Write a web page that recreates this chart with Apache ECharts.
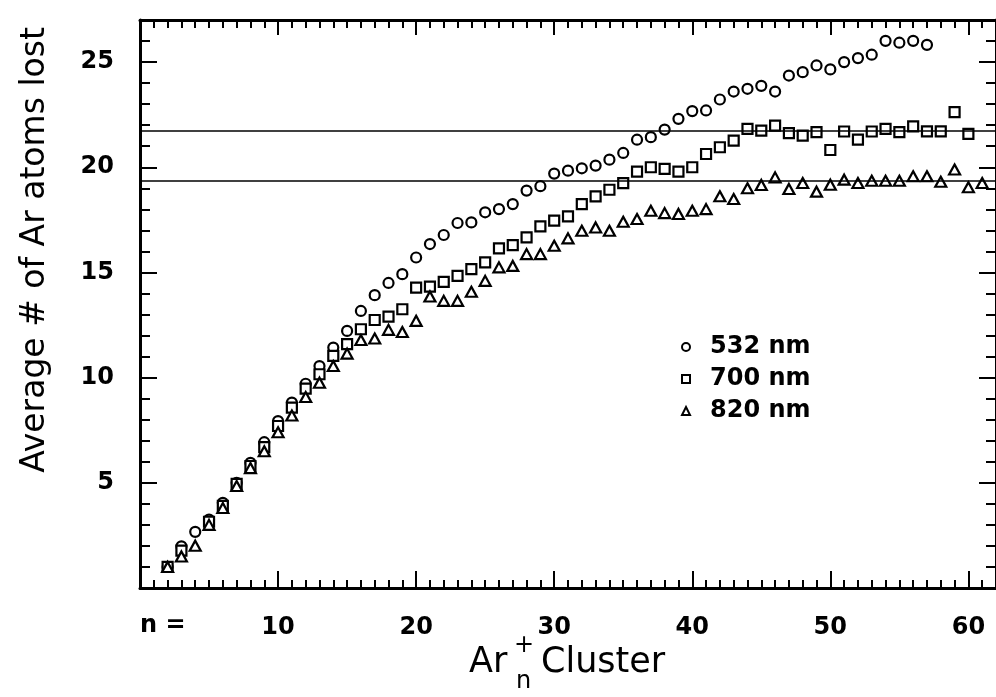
<!DOCTYPE html>
<html>
<head>
<meta charset="utf-8">
<script src="https://cdn.jsdelivr.net/npm/echarts@6/dist/echarts.min.js"></script>
<style>
  html, body { margin: 0; padding: 0; background: #fff; }
  #chart { width: 996px; height: 697px; }
</style>
</head>
<body>
<div id="chart"></div>
<script>
// cluster size n (Ar_n+)
var clusterSize = [2, 3, 4, 5, 6, 7, 8, 9, 10, 11, 12, 13, 14, 15, 16, 17, 18, 19, 20, 21,
  22, 23, 24, 25, 26, 27, 28, 29, 30, 31, 32, 33, 34, 35, 36, 37, 38, 39, 40, 41,
  42, 43, 44, 45, 46, 47, 48, 49, 50, 51, 52, 53, 54, 55, 56, 57, 58, 59, 60, 61];

// average number of Ar atoms lost
var lost532 = [1.0, 1.98, 2.67, 3.25, 4.05, 5.0, 5.95, 6.93, 7.93, 8.81, 9.71, 10.55, 11.43, 12.22, 13.17, 13.92, 14.5, 14.92, 15.71, 16.35,
  16.78, 17.35, 17.38, 17.86, 18.01, 18.25, 18.89, 19.1, 19.7, 19.84, 19.95, 20.08, 20.36, 20.68, 21.31, 21.43, 21.79, 22.3, 22.67, 22.7,
  23.22, 23.6, 23.73, 23.87, 23.6, 24.36, 24.52, 24.84, 24.65, 25.0, 25.19, 25.35, 26.01, 25.92, 26.01, 25.82, null, null, null, null];
var lost700 = [1.0, 1.78, null, 3.15, 3.9, 4.95, 5.8, 6.7, 7.7, 8.57, 9.48, 10.16, 11.03, 11.59, 12.3, 12.74, 12.9, 13.25, 14.28, 14.33,
  14.55, 14.84, 15.16, 15.48, 16.14, 16.3, 16.67, 17.19, 17.46, 17.67, 18.25, 18.62, 18.93, 19.25, 19.79, 20.0, 19.92, 19.79, 20.0, 20.63,
  20.95, 21.27, 21.82, 21.74, 21.98, 21.62, 21.5, 21.67, 20.82, 21.7, 21.31, 21.7, 21.82, 21.67, 21.94, 21.71, 21.71, 22.62, 21.59, null];
var lost820 = [1.0, 1.5, 2.01, 3.0, 3.8, 4.85, 5.7, 6.5, 7.4, 8.2, 9.08, 9.76, 10.55, 11.14, 11.79, 11.86, 12.27, 12.17, 12.7, 13.86,
  13.65, 13.65, 14.08, 14.6, 15.24, 15.31, 15.87, 15.87, 16.27, 16.62, 16.98, 17.14, 16.98, 17.41, 17.54, 17.93, 17.82, 17.78, 17.93, 18.01,
  18.62, 18.49, 19.0, 19.16, 19.52, 18.97, 19.25, 18.84, 19.17, 19.41, 19.25, 19.36, 19.36, 19.36, 19.57, 19.57, 19.31, 19.89, 19.05, 19.25];

// plateau levels (horizontal lines)
var plateauLevels = [21.73, 19.35];

var seriesNames = ['532 nm', '700 nm', '820 nm'];
var seriesSymbols = ['circle', 'rect', 'triangle'];
var symbolSizes = [10, 10, [11, 10]];
var seriesValues = [lost532, lost700, lost820];

var FONT = '"DejaVu Sans", sans-serif';

function toPairs(values) {
  var out = [];
  for (var i = 0; i < clusterSize.length; i++) {
    if (values[i] != null) out.push([clusterSize[i], values[i]]);
  }
  return out;
}

function tickLabel(v) {
  return (v === 0 || v % 5 !== 0) ? '' : v;
}

var chart = echarts.init(document.getElementById('chart'));

var series = [];
for (var k = 0; k < seriesNames.length; k++) {
  series.push({
    name: seriesNames[k],
    type: 'scatter',
    symbol: seriesSymbols[k],
    symbolSize: symbolSizes[k],
    itemStyle: { color: '#fff', borderColor: '#000', borderWidth: 2.2, opacity: 1 },
    data: toPairs(seriesValues[k]),
    z: 3
  });
}
series[0].markLine = {
  silent: true,
  symbol: 'none',
  label: { show: false },
  lineStyle: { color: '#000', width: 1.5, type: 'solid' },
  data: plateauLevels.map(function (v) { return { yAxis: v }; })
};

var axisLine = { show: true, onZero: false, lineStyle: { color: '#000', width: 3 } };
var majorTick = { inside: true, length: 17, lineStyle: { color: '#000', width: 2 } };

var option = {
  animation: false,
  backgroundColor: '#fff',
  grid: { left: 140, top: 20, width: 862, height: 568 },
  legend: {
    orient: 'vertical',
    left: 676,
    top: 330,
    itemGap: 8,
    itemWidth: 8,
    itemHeight: 8,
    data: seriesNames,
    itemStyle: { borderWidth: 2 },
    textStyle: { fontFamily: FONT, fontSize: 24, fontWeight: 'bold', color: '#000', padding: [0, 0, 0, 15] }
  },
  xAxis: [{
    type: 'value',
    min: 0, max: 62, interval: 10,
    axisLine: axisLine,
    axisTick: majorTick,
    minorTick: { show: true, splitNumber: 10, length: 8, lineStyle: { color: '#000', width: 2 } },
    splitLine: { show: false },
    axisLabel: {
      margin: 28, fontFamily: FONT, fontSize: 24, fontWeight: 'bold', color: '#000',
      formatter: function (v) { return v === 0 ? '' : v; }
    }
  }, {
    type: 'value', position: 'top',
    min: 0, max: 62, interval: 10,
    axisLine: axisLine,
    axisTick: { inside: true, length: 15, lineStyle: { color: '#000', width: 2 } },
    minorTick: { show: true, splitNumber: 10, length: 8, lineStyle: { color: '#000', width: 2 } },
    splitLine: { show: false },
    axisLabel: { show: false }
  }],
  yAxis: [{
    type: 'value',
    min: 0, max: 27, interval: 5,
    axisLine: axisLine,
    axisTick: majorTick,
    minorTick: { show: true, splitNumber: 5, length: 10, lineStyle: { color: '#000', width: 2 } },
    splitLine: { show: false },
    axisLabel: {
      margin: 26, fontFamily: FONT, fontSize: 24, fontWeight: 'bold', color: '#000',
      formatter: tickLabel
    }
  }, {
    type: 'value', position: 'right',
    min: 0, max: 27, interval: 5,
    axisLine: axisLine,
    axisTick: majorTick,
    minorTick: { show: true, splitNumber: 5, length: 10, lineStyle: { color: '#000', width: 2 } },
    splitLine: { show: false },
    axisLabel: { show: false }
  }],
  graphic: [
    {
      type: 'text', left: 140, top: 614,
      style: { text: 'n =', font: 'bold 24px ' + FONT, fill: '#000' }
    },
    {
      type: 'text', x: 35, y: 250, rotation: Math.PI / 2,
      style: { text: 'Average # of Ar atoms lost', font: '33px ' + FONT, fill: '#000', align: 'center', verticalAlign: 'middle' }
    },
    {
      type: 'text', left: 469, top: 645,
      style: { text: 'Ar', font: '35px ' + FONT, fill: '#000' }
    },
    {
      type: 'text', left: 514, top: 634,
      style: { text: '+', font: '24px ' + FONT, fill: '#000' }
    },
    {
      type: 'text', left: 516, top: 670,
      style: { text: 'n', font: '24px ' + FONT, fill: '#000' }
    },
    {
      type: 'text', left: 541, top: 645,
      style: { text: 'Cluster', font: '35px ' + FONT, fill: '#000' }
    }
  ],
  series: series
};

chart.setOption(option);
</script>
</body>
</html>
